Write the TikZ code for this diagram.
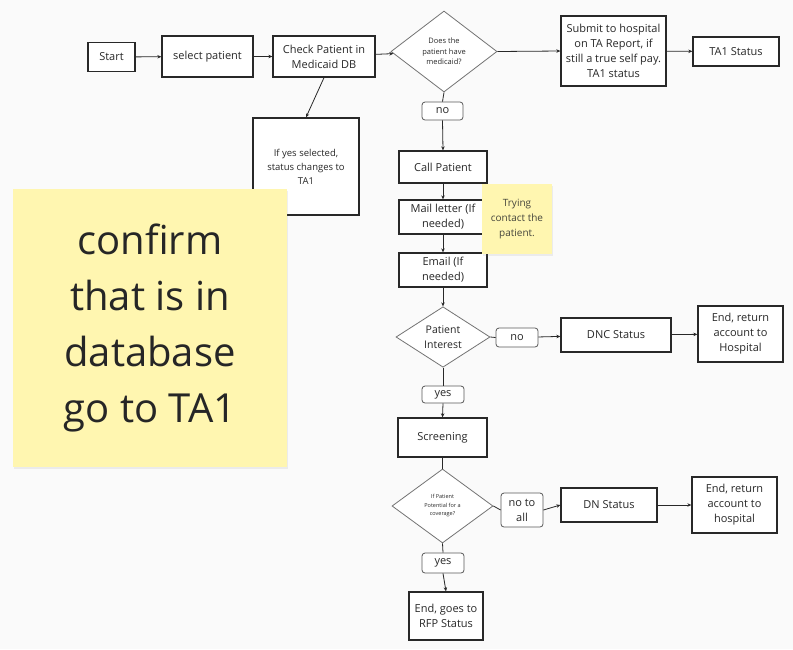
\documentclass[tikz,border=0pt]{standalone}
\usepackage{fontspec}
\setmainfont{Open Sans}
\definecolor{bgpaper}{RGB}{250,250,250}
\definecolor{stickyyellow}{RGB}{255,246,176}
\definecolor{inkdark}{RGB}{40,40,40}
\definecolor{notetext}{RGB}{70,70,60}
\usetikzlibrary{arrows.meta,positioning,shapes.geometric,shadows}

\begin{document}
\begin{tikzpicture}[x=1pt, y=-1pt,
    box/.style={rectangle, draw=inkdark, line width=1.3pt, fill=white, align=center,
      inner sep=2pt, text=inkdark, font=\fontsize{11}{15}\selectfont},
    decision/.style={diamond, draw=black!55, line width=0.8pt, fill=white, align=center,
      inner sep=0pt, text=inkdark},
    tag/.style={rectangle, rounded corners=3pt, draw=black!65, line width=0.8pt, fill=white,
      align=center, inner sep=1pt, text=inkdark, font=\fontsize{11}{15}\selectfont},
    sticky/.style={rectangle, fill=stickyyellow, align=center, inner sep=2pt,
      drop shadow={opacity=0.12, shadow xshift=1pt, shadow yshift=-1.5pt}},
    arr/.style={-{Stealth[length=4pt, width=3.5pt]}, line width=0.8pt, draw=inkdark},
    plain/.style={line width=0.8pt, draw=inkdark}
  ]
    % Canvas
    \fill[bgpaper] (0,0) rectangle (793,649);
    \useasboundingbox (0,0) rectangle (793,649);
    % Top row
    \node[box, minimum width=47, minimum height=29] (start) at (111.5,57) {Start};
    \node[box, minimum width=91, minimum height=41] (select) at (207.5,56.5) {select patient};
    \node[box, minimum width=102, minimum height=41] (check) at (324,56.5)
      {Check Patient in\\Medicaid DB};
    \node[decision, minimum width=106, minimum height=81,
      font=\fontsize{7.5}{10.5}\selectfont] (medicaid) at (444,51.5)
      {Does the\\patient have\\medicaid?};
    \node[box, minimum width=105, minimum height=70] (submit) at (613.5,51)
      {Submit to hospital\\on TA Report, if\\still a true self pay.\\TA1 status};
    \node[box, minimum width=86, minimum height=29] (ta1) at (736,51.5) {TA1 Status};
    % Side box under the check
    \node[box, minimum width=106, minimum height=97,
      font=\fontsize{9.5}{14}\selectfont] (ifyes) at (306,166.5)
      {If yes selected,\\status changes to\\TA1};
    % Contact steps
    \node[tag, minimum width=41, minimum height=18] (nolab1) at (442.5,111) {no};
    \node[box, minimum width=88, minimum height=32] (call) at (443,167) {Call Patient};
    \node[box, minimum width=88, minimum height=34] (mail) at (443,217)
      {Mail letter (If\\needed)};
    \node[box, minimum width=88, minimum height=34] (email) at (443,270)
      {Email (If\\needed)};
    \node[sticky, minimum width=70, minimum height=70, text=notetext,
      font=\fontsize{10}{15}\selectfont] (note) at (517,219)
      {Trying\\contact the\\patient.};
    % Big sticky note
    \node[sticky, minimum width=274, minimum height=278, text=black!85,
      font=\fontsize{40}{56}\selectfont] (bignote) at (150,328)
      {confirm\\that is in\\database\\go to TA1};
    % Interest decision
    \node[decision, minimum width=94, minimum height=60,
      font=\fontsize{10.5}{15}\selectfont] (interest) at (443,337)
      {Patient\\Interest};
    \node[tag, minimum width=42, minimum height=19] (nolab2) at (517,337.5) {no};
    \node[box, minimum width=110, minimum height=34] (dnc) at (616,335) {DNC Status};
    \node[box, minimum width=85, minimum height=56] (endhosp1) at (740.5,334)
      {End, return\\account to\\Hospital};
    \node[tag, minimum width=42, minimum height=17] (yeslab1) at (443,394.5) {yes};
    \node[box, minimum width=89, minimum height=39] (screen) at (442.5,437.5) {Screening};
    % Coverage decision
    \node[decision, minimum width=101, minimum height=74,
      font=\fontsize{5.5}{8.5}\selectfont] (coverage) at (442.5,506)
      {If Patient\\Potential for a\\coverage?};
    \node[tag, minimum width=42, minimum height=34] (nolab3) at (522,510) {no to\\all};
    \node[box, minimum width=96, minimum height=34] (dn) at (609,505) {DN Status};
    \node[box, minimum width=85, minimum height=56] (endhosp2) at (734.5,505)
      {End, return\\account to\\hospital};
    \node[tag, minimum width=42, minimum height=20] (yeslab2) at (443,563) {yes};
    \node[box, minimum width=74, minimum height=48] (rfp) at (446,616)
      {End, goes to\\RFP Status};
    % Arrows along the top
    \draw[arr] (start) -- (select);
    \draw[arr] (select) -- (check);
    \draw[arr] (check) -- (medicaid);
    \draw[arr] (check.south) -- (ifyes.north);
    \draw[arr] (medicaid.east) -- (submit.west);
    \draw[arr] (submit) -- (ta1);
    % Down the middle
    \draw[plain] (medicaid.south) -- (nolab1.north);
    \draw[arr] (nolab1.south) -- (call.north);
    \draw[arr] (call.south) -- (mail.north);
    \draw[arr] (mail.south) -- (email.north);
    \draw[arr] (email.south) -- (interest.north);
    \draw[plain] (interest.east) -- (nolab2.west);
    \draw[arr] (nolab2) -- (dnc);
    \draw[arr] (dnc) -- (endhosp1);
    \draw[plain] (interest.south) -- (yeslab1.north);
    \draw[arr] (yeslab1.south) -- (screen.north);
    \draw[plain] (screen.south) -- (coverage.north);
    \draw[plain] (coverage.east) -- (nolab3.west);
    \draw[arr] (nolab3.east) -- (dn.west);
    \draw[arr] (dn) -- (endhosp2);
    \draw[plain] (coverage.south) -- (yeslab2.north);
    \draw[arr] (yeslab2.south) -- (rfp.north);
  \end{tikzpicture}
\end{document}
